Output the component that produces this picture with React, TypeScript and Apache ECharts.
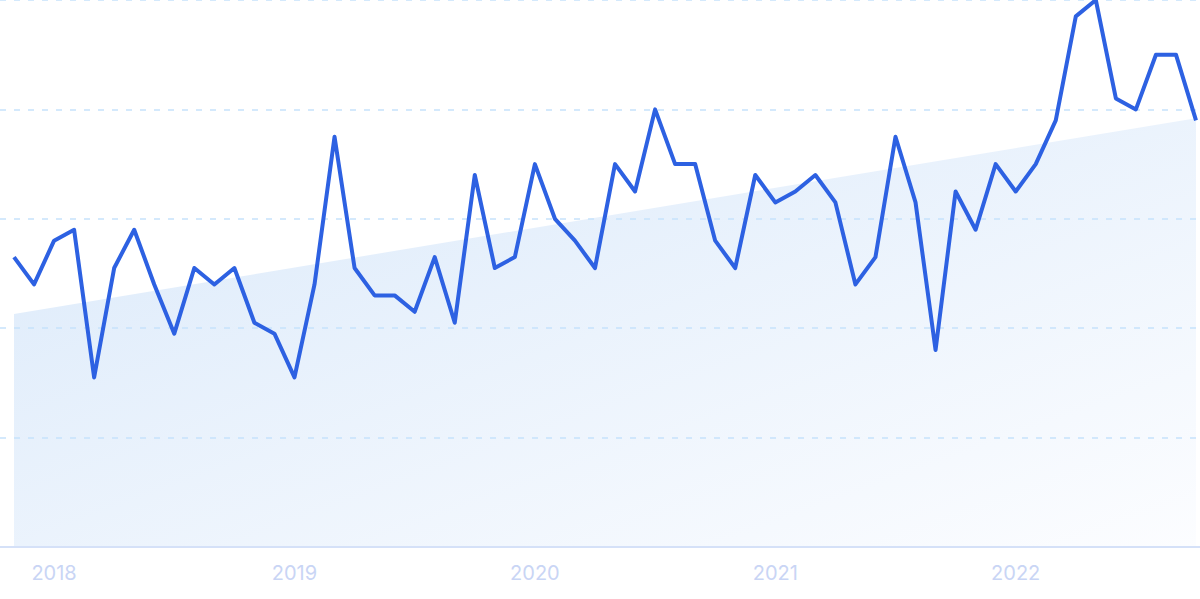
import React, { useEffect, useRef } from "react";
import * as echarts from "echarts";

const startYear = 2017;
const startMonth = 11;
const values: number[] = [
  53, 48, 56, 58, 31, 51, 58, 48, 39, 51, 48, 51,
  41, 39, 31, 48, 75, 51, 46, 46, 43, 53, 41, 68,
  51, 53, 70, 60, 56, 51, 70, 65, 80, 70, 70, 56,
  51, 68, 63, 65, 68, 63, 48, 53, 75, 63, 36, 65,
  58, 70, 65, 70, 78, 97, 100, 82, 80, 90, 90, 78,
];
const trendStart = 42.6;
const trendEnd = 78.4;
const yTicks = [0, 20, 40, 60, 80, 100];

const categories: string[] = values.map((_, i) => {
  const m = startMonth - 1 + i;
  const y = startYear + Math.floor(m / 12);
  const mm = (m % 12) + 1;
  return `${y}-${mm < 10 ? "0" + mm : mm}`;
});

export default function App() {
  const ref = useRef<HTMLDivElement>(null);
  useEffect(() => {
    if (!ref.current) return;
    const chart = echarts.init(ref.current, undefined, { renderer: "svg" });
    const top = 0;
    const bottom = 52;
    chart.setOption({
      animation: false,
      backgroundColor: "#ffffff",
      grid: [
        { left: 14, right: 4, top, bottom },
        { left: 0, right: 0, top, bottom },
      ],
      xAxis: [
        {
          type: "category",
          gridIndex: 0,
          data: categories,
          boundaryGap: false,
          axisLine: { show: false },
          axisTick: { show: false },
          splitLine: { show: false },
          axisLabel: {
            interval: (_i: number, v: string) => v.endsWith("-01"),
            formatter: (v: string) => v.slice(0, 4),
            color: "#c9d5f5",
            fontFamily: "Inter",
            fontSize: 20,
            margin: 16,
          },
        },
        {
          type: "value",
          gridIndex: 1,
          min: 0,
          max: 1,
          z: 5,
          axisLine: { show: true, lineStyle: { color: "#d5e1f8", width: 2 } },
          axisTick: { show: false },
          axisLabel: { show: false },
          splitLine: { show: false },
        },
      ],
      yAxis: [
        {
          type: "value",
          gridIndex: 0,
          min: yTicks[0],
          max: yTicks[yTicks.length - 1],
          interval: 20,
          axisLine: { show: false },
          axisTick: { show: false },
          axisLabel: { show: false },
          splitLine: { show: false },
        },
        {
          type: "value",
          gridIndex: 1,
          min: yTicks[0],
          max: yTicks[yTicks.length - 1],
          interval: 20,
          z: 5,
          axisLine: { show: false },
          axisTick: { show: false },
          axisLabel: { show: false },
          splitLine: {
            show: true,
            lineStyle: { color: "#c6e2fb", type: [6, 8], width: 1.5 },
          },
        },
      ],
      series: [
        {
          type: "line",
          xAxisIndex: 0,
          yAxisIndex: 0,
          data: [
            [0, trendStart],
            [values.length - 1, trendEnd],
          ],
          symbol: "none",
          silent: true,
          lineStyle: { width: 0 },
          areaStyle: {
            opacity: 1,
            color: new echarts.graphic.LinearGradient(0, 0, 1, 1, [
              { offset: 0, color: "#dae9fa" },
              { offset: 1, color: "#fcfdff" },
            ]),
          },
          z: 1,
        },
        {
          type: "line",
          xAxisIndex: 0,
          yAxisIndex: 0,
          data: values,
          symbol: "none",
          lineStyle: { color: "#2d61e2", width: 4, join: "round" },
          clip: false,
          z: 6,
        },
      ],
    });
    return () => chart.dispose();
  }, []);
  return <div ref={ref} style={{ width: 1200, height: 599, position: "absolute", left: 0, top: 0 }} />;
}
